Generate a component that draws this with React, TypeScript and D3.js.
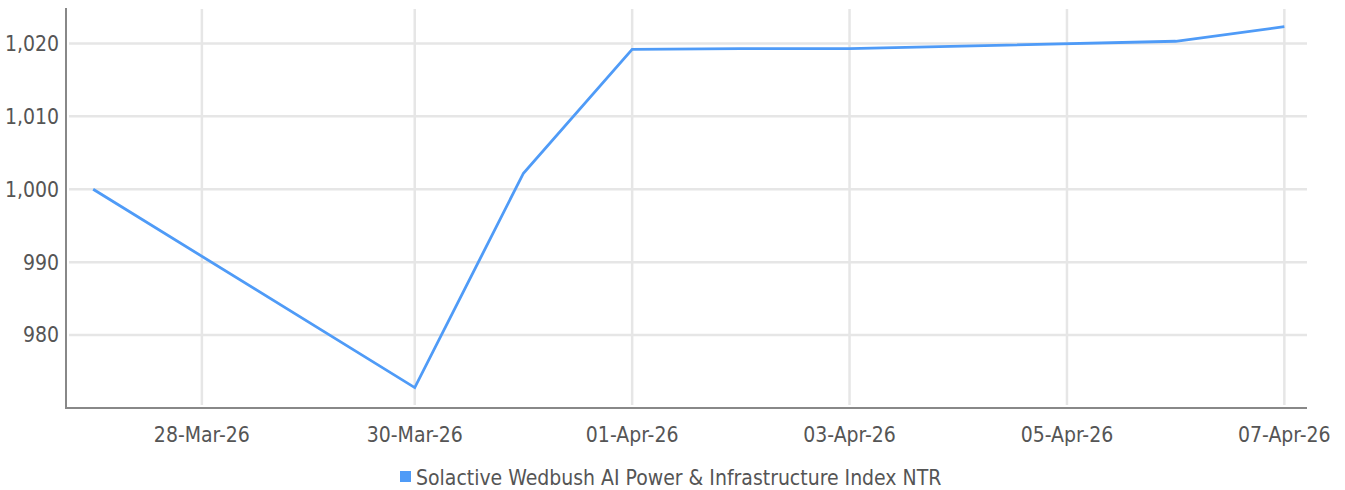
import * as d3 from "d3";

// timestamps at local midnight (CET/CEST, DST switch on 29-Mar)
const dates = [
    "2026-03-27T00:00:00+01:00",
    "2026-03-30T00:00:00+02:00",
    "2026-03-31T00:00:00+02:00",
    "2026-04-01T00:00:00+02:00",
    "2026-04-02T00:00:00+02:00",
    "2026-04-03T00:00:00+02:00",
    "2026-04-06T00:00:00+02:00",
    "2026-04-07T00:00:00+02:00",
];
const values = [1000, 972.8, 1002.2, 1019.2, 1019.3, 1019.3, 1020.3, 1022.3];
const yTicks = [980, 990, 1000, 1010, 1020];
const xTicks = [
    "2026-03-28T00:00:00+01:00",
    "2026-03-30T00:00:00+02:00",
    "2026-04-01T00:00:00+02:00",
    "2026-04-03T00:00:00+02:00",
    "2026-04-05T00:00:00+02:00",
    "2026-04-07T00:00:00+02:00",
];
const xTickLabels = ["28-Mar-26", "30-Mar-26", "01-Apr-26", "03-Apr-26", "05-Apr-26", "07-Apr-26"];
const seriesName = "Solactive Wedbush AI Power & Infrastructure Index NTR";

const W = 1345;
const H = 490;
const FONT = "'Liberation Sans Narrow', 'DejaVu Sans Condensed', 'Roboto', sans-serif";

export default function App() {
    const pts = dates.map((d, i) => ({ date: new Date(d), value: values[i] }));

    const first = pts[0].date;
    const last = pts[pts.length - 1].date;
    const x = d3.scaleUtc(
        [d3.utcHour.offset(first, -6), d3.utcHour.offset(last, 5)],
        [66, 1307]
    );
    const y = d3.scaleLinear([970, 1025], [408, 7]);
    const line = d3.line<{ date: Date; value: number }>((d) => x(d.date), (d) => y(d.value));

    return (
        <svg width={W} height={H} style={{ position: "absolute", left: 0, top: 0 }} fontFamily={FONT}>
            <g stroke="#e6e6e6" strokeWidth={2.5}>
                {yTicks.map((t) => (
                    <line key={t} x1={69} x2={1307} y1={y(t)} y2={y(t)} />
                ))}
                {xTicks.map((t) => {
                    const xx = x(new Date(t));
                    return <line key={t} x1={xx} x2={xx} y1={9} y2={405} />;
                })}
            </g>
            <line x1={66} x2={66} y1={8} y2={409} stroke="#888" strokeWidth={2} />
            <line x1={65} x2={1307} y1={408} y2={408} stroke="#888" strokeWidth={2} />
            <g fill="#555" fontSize={21}>
                {yTicks.map((t) => (
                    <text key={t} x={59} y={y(t)} dy="0.35em" textAnchor="end">
                        {d3.format(",")(t)}
                    </text>
                ))}
                {xTicks.map((t, i) => (
                    <text key={t} x={x(new Date(t))} y={442} textAnchor="middle">
                        {xTickLabels[i]}
                    </text>
                ))}
            </g>
            <path d={line(pts) ?? undefined} fill="none" stroke="#4f9bf7" strokeWidth={2.8} />
            <rect x={400} y={471} width={11} height={11} fill="#4f9bf7" />
            <text x={416} y={485} fontSize={21} fill="#555">
                {seriesName}
            </text>
        </svg>
    );
}
